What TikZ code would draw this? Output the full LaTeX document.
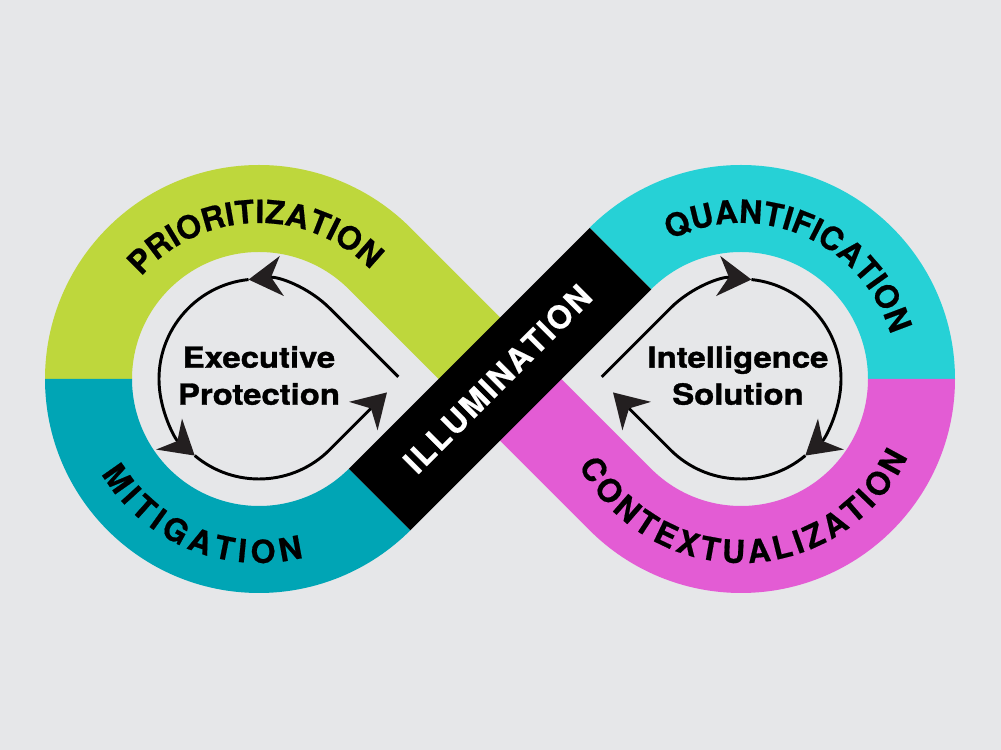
\documentclass[tikz,border=0pt]{standalone}
\usepackage{fontspec}
\setmainfont{TeX Gyre Heros}
\newfontfamily\hvwide{TeX Gyre Heros}[FakeStretch=1.13, BoldFeatures={FakeBold=1.2}]
\newfontfamily\hvring{TeX Gyre Heros}[BoldFeatures={FakeBold=0.5}]
\usepackage{tikz}
\usetikzlibrary{arrows.meta,calc,decorations.text}

\definecolor{bggray}{HTML}{E6E7E9}
\definecolor{limegreen}{HTML}{BED73C}
\definecolor{tealband}{HTML}{00A5B5}
\definecolor{cyanband}{HTML}{26D1D6}
\definecolor{pinkband}{HTML}{E35CD4}
\definecolor{arrowgray}{HTML}{231F20}

\newcommand{\ringfont}{\hvring\bfseries\fontsize{24pt}{28pt}\selectfont}

\begin{document}
\begin{tikzpicture}[
  x=0.75pt, y=0.75pt,
  loopline/.style={line width=2.2pt, draw=black},
  arrow/.style={loopline, -{Stealth[length=25pt, width=30pt, inset=8pt, color=arrowgray]}},
  ringlabel/.style={decorate, decoration={text along path, text align=fit to path, text={|\ringfont|#1}}},
  whitelabel/.style={decorate, decoration={text along path, text align=fit to path, text color=white, text={|\ringfont|#1}}},
  centretext/.style={font=\hvwide\bfseries\fontsize{21.8pt}{27.75pt}\selectfont, align=center, inner sep=0pt}
]
\useasboundingbox (0,0) rectangle (1001,750);
\fill[bggray] (0,0) rectangle (1001,750);

\coordinate (L) at (259,371);
\coordinate (R) at (741,371);
\coordinate (C) at (500,371);

% left loop
\fill[limegreen] ($(L)+(180:214)$) arc[start angle=180, end angle=45, radius=214]
  -- ++(-45:170.4) -- ++(-135:87) -- ++(135:170.4)
  arc[start angle=45, end angle=180, radius=127] -- cycle;
\fill[tealband] ($(L)+(180:214)$) arc[start angle=180, end angle=315, radius=214]
  -- ++(135:87) arc[start angle=315, end angle=180, radius=127] -- cycle;

% right loop
\fill[cyanband] ($(R)+(0:214)$) arc[start angle=0, end angle=135, radius=214]
  -- ++(-45:87) arc[start angle=135, end angle=0, radius=127] -- cycle;
\fill[pinkband] ($(R)+(0:214)$) arc[start angle=0, end angle=-135, radius=214]
  -- ++(135:170.4) -- ++(45:87) -- ++(-45:170.4)
  arc[start angle=-135, end angle=0, radius=127] -- cycle;

% crossing
\fill[black] ($(L)+(-45:214)$) -- ++(45:340.8) -- ++(135:87) -- ++(-135:340.8) -- cycle;

% ring labels
\path[ringlabel=PRIORITIZATION] ($(L)+(139:156)$) arc[start angle=139, end angle=45, radius=156];
\path[ringlabel=MITIGATION] ($(L)+(211:184)$) arc[start angle=211, end angle=284, radius=184];
\path[ringlabel=QUANTIFICATION] ($(R)+(117:156)$) arc[start angle=117, end angle=19, radius=156];
\path[ringlabel=CONTEXTUALIZATION] ($(R)+(208:184)$) arc[start angle=208, end angle=335, radius=184];
\path[whitelabel=ILLUMINATION] ($(C)+(-2.5,0)+(225:125)+(-45:11.5)$) -- ($(C)+(-2.5,0)+(45:125)+(-45:11.5)$);

% left cycle
\coordinate (tipL) at ($(L)+(45:100)+(-45:97)$);
\draw[arrow] (tipL) -- ($(L)+(45:100)$) arc[start angle=45, end angle=96, radius=100];
\draw[arrow] ($(L)+(96:100)$) arc[start angle=96, end angle=230, radius=100];
\draw[arrow] ($(L)+(230:100)$) arc[start angle=230, end angle=315, radius=100] -- ++(45:81);

% right cycle
\coordinate (tipR) at ($(R)+(135:100)+(-135:97)$);
\draw[arrow] (tipR) -- ($(R)+(135:100)$) arc[start angle=135, end angle=84, radius=100];
\draw[arrow] ($(R)+(84:100)$) arc[start angle=84, end angle=-50, radius=100];
\draw[arrow] ($(R)+(-50:100)$) arc[start angle=-50, end angle=-135, radius=100] -- ++(135:81);

\node[centretext] (exec) at ($(L)+(0,3.5)$) {Executive\\Protection};
\node[centretext] (intel) at ($(R)+(-3,3.5)$) {Intelligence\\Solution};
\end{tikzpicture}
\end{document}
